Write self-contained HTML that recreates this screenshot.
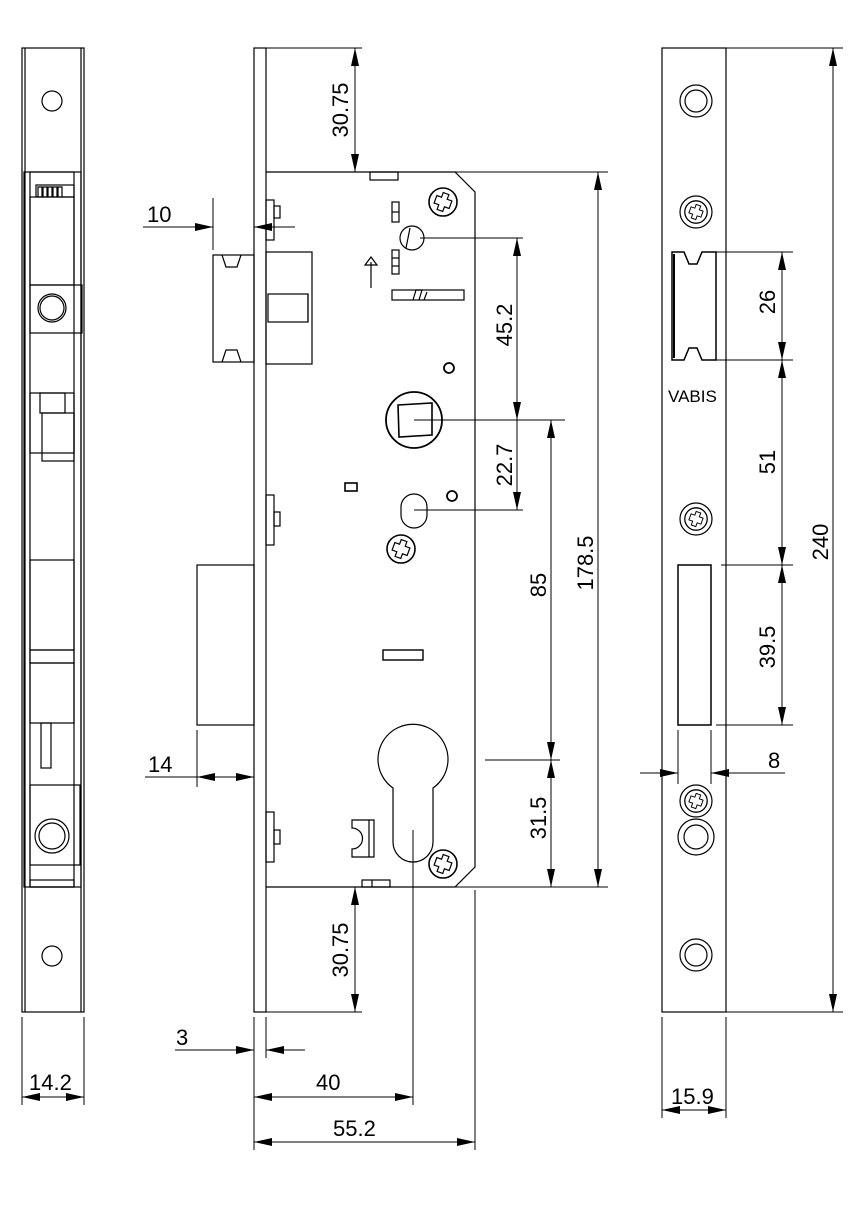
<!DOCTYPE html>
<html><head><meta charset="utf-8"><style>
html,body{margin:0;padding:0;background:#fff}
svg{display:block}
text{font-family:"Liberation Sans",sans-serif;font-size:22px;fill:#000}
</style></head><body>
<svg width="865" height="1214" viewBox="0 0 865 1214" xmlns="http://www.w3.org/2000/svg">
<defs>
<marker id="a" viewBox="0 0 18 8" refX="18" refY="4" markerWidth="18" markerHeight="8" markerUnits="userSpaceOnUse" orient="auto-start-reverse"><path d="M0,0 L18,4 L0,8 Z" fill="#000"/></marker>
<g id="scr"><circle r="14" fill="none" stroke="#000" stroke-width="1.6"/><path d="M-3,-9 h6 v5 h5 v8 h-5 v5 h-6 v-5 h-5 v-8 h5 z" fill="none" stroke="#000" stroke-width="1.2" transform="rotate(20)"/></g>
</defs>
<g fill="none" stroke="#000" stroke-width="1.2">
<!-- LEFT SIDE VIEW -->
<rect x="22" y="48" width="62" height="964"/>
<line x1="25" y1="48" x2="25" y2="1012"/><line x1="81" y1="48" x2="81" y2="1012"/>
<rect x="24" y="172" width="57" height="715"/>
<rect x="30" y="172" width="44" height="715"/>
<rect x="36" y="185" width="38" height="12"/>
<path d="M38,197 v-10 h4 v10 M43,197 v-10 h4 v10 M48,197 v-10 h4 v10 M53,197 v-10 h4 v10 M58,197 v-10 h4 v10"/>
<rect x="30" y="197" width="44" height="88"/>
<rect x="30" y="285" width="52" height="48"/>
<circle cx="52" cy="308" r="14"/><circle cx="52" cy="308" r="12"/>
<rect x="30" y="393" width="44" height="60"/>
<rect x="40" y="393" width="25" height="20"/>
<rect x="42" y="413" width="32" height="48"/>
<rect x="30" y="560" width="44" height="90"/>
<rect x="30" y="650" width="44" height="13"/>
<rect x="30" y="663" width="44" height="60"/>
<rect x="41" y="723" width="10" height="45"/>
<rect x="30" y="785" width="50" height="80"/>
<circle cx="52" cy="836" r="17"/><circle cx="52" cy="836" r="13"/>
<rect x="30" y="880" width="44" height="7"/>
<circle cx="52" cy="101" r="10"/><circle cx="52" cy="956" r="10"/>

<!-- MAIN FRONT -->
<rect x="254" y="48" width="12" height="964"/>
<path d="M266,172 H455 L475,192 V867 L455,887 H266"/>
<rect x="370" y="172" width="28" height="8"/>
<rect x="362" y="880" width="28" height="7"/><line x1="372" y1="880" x2="372" y2="887"/>
<rect x="266" y="200" width="8" height="40"/><rect x="274" y="206" width="6" height="12"/>
<rect x="266" y="495" width="8" height="50"/><rect x="274" y="512" width="6" height="14"/>
<rect x="266" y="812" width="8" height="50"/><rect x="274" y="830" width="6" height="14"/>
<!-- latch -->
<rect x="213" y="255" width="41" height="107"/>
<path d="M222,255 l4,12 h11 l4,-12 M222,362 l4,-12 h11 l4,12"/>
<rect x="266" y="252" width="46" height="112"/>
<rect x="268" y="294" width="40" height="28"/><line x1="308" y1="294" x2="308" y2="322"/>
<!-- deadbolt -->
<rect x="197" y="565" width="57" height="160"/>
<!-- internals -->
<use href="#scr" x="443" y="202"/>
<use href="#scr" x="401" y="549"/>
<use href="#scr" x="443" y="864"/>
<circle cx="412" cy="238" r="12"/><line x1="406" y1="248" x2="410" y2="228"/>
<rect x="392" y="202" width="7" height="20"/><line x1="392" y1="212" x2="399" y2="212"/>
<rect x="392" y="250" width="7" height="24"/><line x1="392" y1="258" x2="399" y2="258"/><line x1="392" y1="266" x2="399" y2="266"/>
<line x1="371" y1="288" x2="371" y2="262"/><path d="M365,265 L371,257 L377,265 Z"/>
<rect x="392" y="290" width="72" height="10"/><path d="M413,300 l3,-10 h6 l-3,10 M424,300 l3,-8"/>
<circle cx="449" cy="368" r="5" stroke-width="1.8"/>
<circle cx="414" cy="420" r="28" stroke-width="1.8"/>
<path d="M398,405 L432,403 L432,435 L399,437 Z" stroke-width="1.6"/>
<rect x="345" y="483" width="12" height="8" stroke-width="1.6"/>
<circle cx="452" cy="496" r="5" stroke-width="1.8"/>
<rect x="401" y="494" width="26" height="34" rx="13"/>
<rect x="383" y="650" width="40" height="10" stroke-width="1.4"/>
<path d="M393,788 A35,35 0 1 1 433,788 V842 A20,20 0 0 1 393,842 Z"/>
<path d="M352,820 h22 v37 h-22 v-8 a10,10 0 0 0 0,-21 z M369,820 v37"/>

<!-- RIGHT STRIKE PLATE -->
<rect x="662" y="48" width="64" height="964"/>
<circle cx="696" cy="101" r="16"/><circle cx="696" cy="101" r="11"/>
<circle cx="696" cy="212" r="16"/>
<circle cx="696" cy="519" r="16"/>
<circle cx="696" cy="801" r="16"/>
<circle cx="696" cy="837" r="18"/><circle cx="696" cy="837" r="12"/>
<circle cx="696" cy="955" r="16"/><circle cx="696" cy="955" r="11"/>
<path d="M672,252 H684 l5,12 h8 l5,-12 H716 V360 H702 l-5,-12 h-8 l-5,12 H672 Z" stroke-width="1.5"/>
<line x1="674" y1="254" x2="674" y2="358" stroke-width="2"/>
<rect x="678" y="565" width="33" height="160" stroke-width="1.5"/>
</g>
<use href="#scr" x="696" y="212" transform="translate(-69.6 -21.2) scale(0.1)" opacity="0"/>
<g transform="translate(696,212) scale(0.8)"><use href="#scr"/></g>
<g transform="translate(696,519) scale(0.8)"><use href="#scr"/></g>
<g transform="translate(696,801) scale(0.8)"><use href="#scr"/></g>
<text x="668" y="402" style="font-size:17px">VABIS</text>

<!-- DIMENSION LINES -->
<g fill="none" stroke="#000" stroke-width="1">
<line x1="266" y1="48" x2="362" y2="48"/>
<line x1="455" y1="172" x2="608" y2="172"/>
<line x1="355" y1="48" x2="355" y2="172" marker-start="url(#a)" marker-end="url(#a)"/>
<line x1="420" y1="238" x2="523" y2="238"/>
<line x1="517" y1="238" x2="517" y2="420" marker-start="url(#a)" marker-end="url(#a)"/>
<line x1="414" y1="420" x2="565" y2="420"/>
<line x1="517" y1="420" x2="517" y2="510" marker-end="url(#a)"/>
<line x1="414" y1="510" x2="523" y2="510"/>
<line x1="551" y1="420" x2="551" y2="760" marker-start="url(#a)" marker-end="url(#a)"/>
<line x1="485" y1="760" x2="560" y2="760"/>
<line x1="551" y1="760" x2="551" y2="887" marker-start="url(#a)" marker-end="url(#a)"/>
<line x1="455" y1="887" x2="608" y2="887"/>
<line x1="598" y1="172" x2="598" y2="887" marker-start="url(#a)" marker-end="url(#a)"/>
<line x1="355" y1="887" x2="355" y2="1012" marker-start="url(#a)" marker-end="url(#a)"/>
<line x1="266" y1="1012" x2="362" y2="1012"/>
<!-- 10 -->
<line x1="213" y1="198" x2="213" y2="250"/>
<line x1="143" y1="227" x2="213" y2="227" marker-end="url(#a)"/>
<line x1="295" y1="227" x2="254" y2="227" marker-end="url(#a)"/>
<!-- 14 -->
<line x1="197" y1="730" x2="197" y2="787"/>
<line x1="145" y1="777" x2="197" y2="777"/>
<line x1="254" y1="777" x2="197" y2="777" marker-end="url(#a)"/>
<line x1="197" y1="777" x2="254" y2="777" marker-end="url(#a)"/>
<!-- bottom -->
<line x1="254" y1="1017" x2="254" y2="1150"/>
<line x1="266" y1="1017" x2="266" y2="1058"/>
<line x1="413" y1="830" x2="413" y2="1105"/>
<line x1="475" y1="890" x2="475" y2="1150"/>
<line x1="175" y1="1050" x2="254" y2="1050" marker-end="url(#a)"/>
<line x1="305" y1="1050" x2="266" y2="1050" marker-end="url(#a)"/>
<line x1="254" y1="1097" x2="413" y2="1097" marker-start="url(#a)" marker-end="url(#a)"/>
<line x1="254" y1="1142" x2="475" y2="1142" marker-start="url(#a)" marker-end="url(#a)"/>
<!-- 14.2 -->
<line x1="22" y1="1017" x2="22" y2="1105"/><line x1="84" y1="1017" x2="84" y2="1105"/>
<line x1="22" y1="1097" x2="84" y2="1097" marker-start="url(#a)" marker-end="url(#a)"/>
<!-- right plate dims -->
<line x1="726" y1="48" x2="843" y2="48"/>
<line x1="726" y1="1012" x2="843" y2="1012"/>
<line x1="833" y1="48" x2="833" y2="1012" marker-start="url(#a)" marker-end="url(#a)"/>
<line x1="716" y1="252" x2="793" y2="252"/>
<line x1="716" y1="360" x2="793" y2="360"/>
<line x1="782" y1="252" x2="782" y2="360" marker-start="url(#a)" marker-end="url(#a)"/>
<line x1="782" y1="360" x2="782" y2="565" marker-start="url(#a)" marker-end="url(#a)"/>
<line x1="721" y1="565" x2="793" y2="565"/>
<line x1="716" y1="725" x2="793" y2="725"/>
<line x1="782" y1="565" x2="782" y2="725" marker-start="url(#a)" marker-end="url(#a)"/>
<line x1="678" y1="730" x2="678" y2="784"/><line x1="711" y1="730" x2="711" y2="784"/>
<line x1="640" y1="773" x2="678" y2="773" marker-end="url(#a)"/>
<line x1="785" y1="773" x2="711" y2="773" marker-end="url(#a)"/>
<line x1="662" y1="1017" x2="662" y2="1118"/><line x1="726" y1="1017" x2="726" y2="1118"/>
<line x1="662" y1="1110" x2="726" y2="1110" marker-start="url(#a)" marker-end="url(#a)"/>
</g>

<!-- LABELS -->
<text x="147" y="222">10</text>
<text x="148" y="772">14</text>
<text x="176" y="1045">3</text>
<text x="316" y="1090">40</text>
<text x="333" y="1136">55.2</text>
<text x="29" y="1090">14.2</text>
<text x="671" y="1104">15.9</text>
<text x="768" y="768">8</text>
<g text-anchor="middle">
<text transform="translate(348,110) rotate(-90)">30.75</text>
<text transform="translate(348,950) rotate(-90)">30.75</text>
<text transform="translate(512,325) rotate(-90)">45.2</text>
<text transform="translate(512,465) rotate(-90)">22.7</text>
<text transform="translate(546,585) rotate(-90)">85</text>
<text transform="translate(593,563) rotate(-90)">178.5</text>
<text transform="translate(546,818) rotate(-90)">31.5</text>
<text transform="translate(775,302) rotate(-90)">26</text>
<text transform="translate(775,462) rotate(-90)">51</text>
<text transform="translate(775,647) rotate(-90)">39.5</text>
<text transform="translate(828,542) rotate(-90)">240</text>
</g>
</svg>
</body></html>
